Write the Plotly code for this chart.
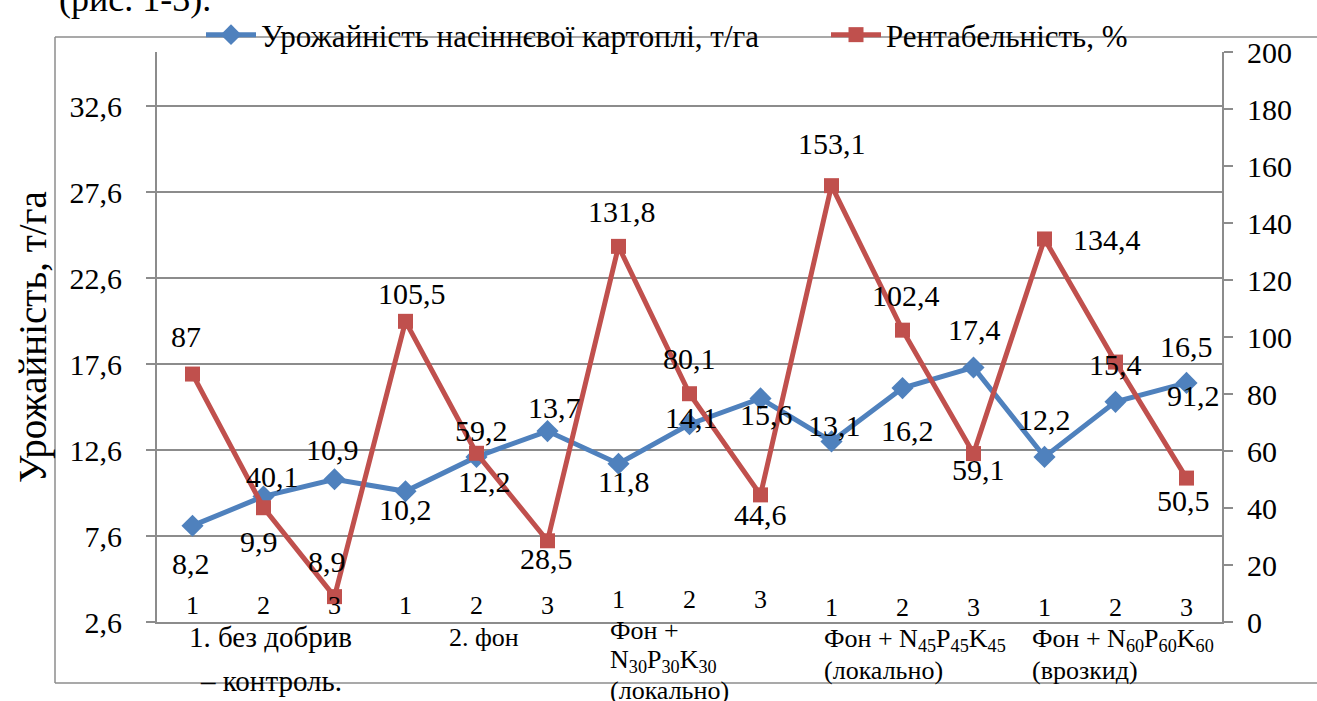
import plotly.graph_objects as go

# --- data ---
variants = ["1", "2", "3"] * 5
groups = [
    ["1. без добрив", "– контроль."],
    ["2. фон"],
    ["Фон +", "N<sub>30</sub>P<sub>30</sub>K<sub>30</sub>", "(локально)"],
    ["Фон + N<sub>45</sub>P<sub>45</sub>K<sub>45</sub>", "(локально)"],
    ["Фон + N<sub>60</sub>P<sub>60</sub>K<sub>60</sub>", "(врозкид)"],
]
yield_t = [8.2, 9.9, 10.9, 10.2, 12.2, 13.7, 11.8, 14.1, 15.6, 13.1, 16.2, 17.4, 12.2, 15.4, 16.5]
profit = [87, 40.1, 8.9, 105.5, 59.2, 28.5, 131.8, 80.1, 44.6, 153.1, 102.4, 59.1, 134.4, 91.2, 50.5]
left_ticks = [2.6, 7.6, 12.6, 17.6, 22.6, 27.6, 32.6]

name_yield = "Урожайність насіннєвої картоплі, т/га"
name_profit = "Рентабельність, %"
y_title = "Урожайність, т/га"
top_text = "(рис. 1-3)."

# label offsets (px, right / down)
blue_dx = [-2, -5, -2, 0, 8, 7, 5, 2, 6, 3, 5, 1, 0, 0, 0]
blue_dy = [38, 45, -30, 18, 25, -24, 18, -7, 16, -16, 42, -38, -37, -37, -36]
red_dx = [-7, 9, -8, 6, 5, -1, 3, 0, 0, 0, 3, 5, 62, 78, -3]
red_dy = [-38, -31, -35, -28, -23, 18, -35, -35, 20, -42, -35, 16, 1, 33, 22]

BLUE = "#4F81BD"
RED = "#C0504D"
GRID = "#8c8c8c"
FONT = "Liberation Serif"
OFF = 0  # body margin removed below

def fmt(v):
    return f"{v:g}".replace(".", ",")

def py(sy):
    # screen y -> paper y of the plot area
    return (622 - sy) / 570

def px(sx):
    return (sx - 157) / 1065

x = list(range(len(yield_t)))

fig = go.Figure()
fig.add_trace(go.Scatter(x=x, y=yield_t, name=name_yield, mode="lines+markers",
                         line=dict(color=BLUE, width=5),
                         marker=dict(symbol="diamond", size=17, color=BLUE),
                         legend="legend"))
fig.add_trace(go.Scatter(x=x, y=profit, name=name_profit, mode="lines+markers", yaxis="y2",
                         line=dict(color=RED, width=5),
                         marker=dict(symbol="square", size=15, color=RED),
                         legend="legend2"))

ann = []
for i, v in enumerate(yield_t):
    ann.append(dict(x=i, y=v, xref="x", yref="y", text=fmt(v), showarrow=False,
                    xshift=blue_dx[i], yshift=-blue_dy[i], font=dict(size=30)))
for i, v in enumerate(profit):
    ann.append(dict(x=i, y=v, xref="x", yref="y2", text=fmt(v), showarrow=False,
                    xshift=red_dx[i], yshift=-red_dy[i], font=dict(size=30)))

# variant numbers inside the plot, above the axis
var_y = [605] * 6 + [599] * 3 + [607] * 6
for i, t in enumerate(variants):
    ann.append(dict(x=i, y=py(var_y[i]), xref="x", yref="paper", text=t,
                    showarrow=False, yanchor="middle", font=dict(size=26)))

# group labels under the axis
group_x = [1.1, 4.1, 5.85, 8.86, 11.8]
group_anchor = ["center", "center", "left", "left", "left"]
group_size = [29, 26, 26, 26, 26]
group_line_y = [[637, 681], [637], [630, 661, 690], [640, 670], [640, 670]]
for g, lines in enumerate(groups):
    for j, t in enumerate(lines):
        ann.append(dict(x=group_x[g], y=py(group_line_y[g][j]), xref="x", yref="paper",
                        text=t, showarrow=False, xanchor=group_anchor[g], yanchor="middle",
                        font=dict(size=group_size[g])))

ann.append(dict(x=px(33), y=0.5, xref="paper", yref="paper", text=y_title,
                textangle=-90, showarrow=False, xanchor="center", yanchor="middle",
                font=dict(size=39)))
ann.append(dict(x=px(57), y=py(21), xref="paper", yref="paper",
                text=top_text, showarrow=False, xanchor="left", yanchor="bottom",
                font=dict(size=36)))

leg = dict(orientation="h", yref="container", xref="container", y=1 - (35 - OFF) / 701,
           xanchor="left", yanchor="middle", font=dict(size=31),
           itemwidth=50, bgcolor="rgba(0,0,0,0)")

frame = dict(type="line", xref="paper", yref="paper", line=dict(color=GRID, width=1.5),
             layer="below")

fig.update_layout(
    width=1317, height=701,
    margin=dict(l=157 - OFF, r=1317 - (157 - OFF) - 1065, t=52 - OFF,
                b=701 - (52 - OFF) - 570, autoexpand=False),
    paper_bgcolor="white", plot_bgcolor="white",
    font=dict(family=FONT, color="black", size=30),
    separators=", ",
    showlegend=True,
    legend=dict(leg, x=(201 - OFF) / 1317),
    legend2=dict(leg, x=(826 - OFF) / 1317),
    annotations=ann,
    shapes=[
        dict(frame, x0=px(55), x1=px(55), y0=py(683), y1=py(37)),
        dict(frame, x0=px(55), x1=px(1317), y0=py(37), y1=py(37)),
        dict(frame, x0=px(55), x1=px(1317), y0=py(683), y1=py(683)),
    ],
    xaxis=dict(range=[-0.5, 14.5], showticklabels=False, ticks="", showgrid=False,
               showline=True, linecolor=GRID, linewidth=2, zeroline=False),
    yaxis=dict(range=[2.6, 2.6 + 570 / 86 * 5], tickvals=left_ticks,
               ticktext=[fmt(v) for v in left_ticks],
               showgrid=True, gridcolor=GRID, gridwidth=1.5,
               showline=True, linecolor=GRID, linewidth=2,
               ticks="outside", ticklen=9, tickcolor=GRID, tickwidth=1.5,
               ticklabelstandoff=18, zeroline=False, tickfont=dict(size=30)),
    yaxis2=dict(range=[0, 200], dtick=20, overlaying="y", side="right",
                showgrid=False, showline=True, linecolor=GRID, linewidth=2,
                ticks="outside", ticklen=9, tickcolor=GRID, tickwidth=1.5,
                ticklabelstandoff=8, zeroline=False, tickfont=dict(size=30)),
)

fig.write_html("out.html", config={"displayModeBar": False}, post_script=(
    "document.body.style.margin='0';"
    "document.documentElement.style.overflow='hidden';"
    "document.body.style.overflow='hidden';"
))
